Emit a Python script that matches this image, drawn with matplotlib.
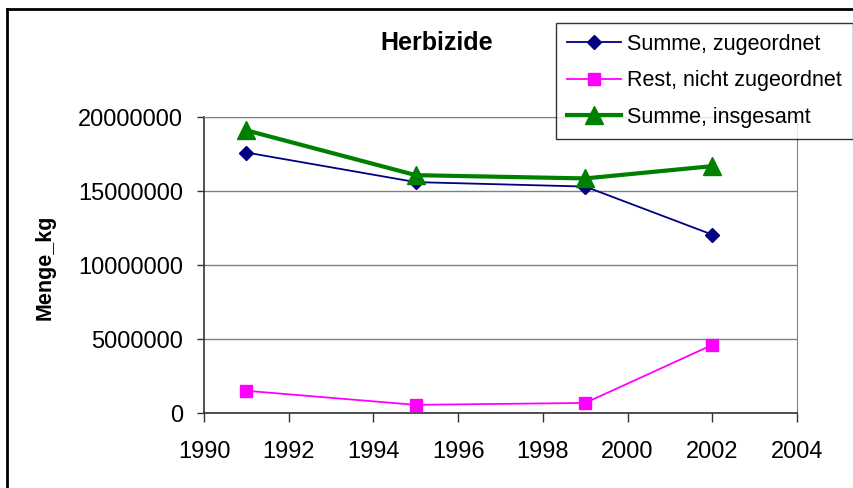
import matplotlib.pyplot as plt
from matplotlib.lines import Line2D

plt.rcParams['font.family'] = ['Liberation Sans', 'DejaVu Sans']

years = [1991, 1995, 1999, 2002]
summe_zugeordnet = [17600000, 15600000, 15300000, 12050000]
rest_nicht_zugeordnet = [1500000, 550000, 680000, 4600000]
summe_insgesamt = [19100000, 16070000, 15850000, 16680000]

fig = plt.figure(figsize=(8.54, 4.88), dpi=100)
ax = fig.add_axes([204 / 854, 1 - 413 / 488, (797 - 204) / 854, (413 - 117) / 488])

ax.plot(years, summe_zugeordnet, color='#000080', lw=1.3, marker='D', ms=7,
        label='Summe, zugeordnet', clip_on=False, zorder=3)
ax.plot(years, rest_nicht_zugeordnet, color='#FF00FF', lw=1.3, marker='s', ms=9,
        label='Rest, nicht zugeordnet', clip_on=False, zorder=3)
ax.plot(years, summe_insgesamt, color='#008000', lw=3, marker='^', ms=13,
        label='Summe, insgesamt', clip_on=False, zorder=4)

ax.set_xlim(1990, 2004)
ax.set_ylim(0, 20000000)
ax.set_xticks(range(1990, 2005, 2))
ax.set_yticks(range(0, 20000001, 5000000))
ax.set_yticklabels([str(v) for v in range(0, 20000001, 5000000)])
ax.tick_params(axis='both', direction='out', width=1, color='#333333',
               labelsize=17)
ax.tick_params(axis='x', length=6.5, pad=14)
ax.tick_params(axis='y', length=5, pad=10)

ax.grid(axis='y', color='#808080', lw=1)
ax.set_axisbelow(True)
for side in ['top', 'right']:
    ax.spines[side].set_color('#808080')
for side in ['left', 'bottom']:
    ax.spines[side].set_color('#333333')
    ax.spines[side].set_linewidth(1.2)

fig.text(437 / 854, 1 - 43 / 488, 'Herbizide', ha='center', va='center',
         fontsize=18, fontweight='bold')
fig.text(45 / 854, 1 - 267 / 488, 'Menge_kg', ha='center', va='center',
         rotation=90, fontsize=15.5, fontweight='bold')

# outer chart border (left and top edges only visible)
fig.add_artist(Line2D([7 / 854, 7 / 854], [0, 1 - 9 / 488], color='black', lw=2,
                      transform=fig.transFigure))
fig.add_artist(Line2D([7 / 854, 1], [1 - 9 / 488, 1 - 9 / 488], color='black', lw=2,
                      transform=fig.transFigure))

leg = fig.legend(loc='upper left', bbox_to_anchor=(556 / 854, 1 - 23 / 488),
                 frameon=True, fancybox=False, edgecolor='black', fontsize=15.5,
                 handlelength=2.5, handletextpad=0.3, labelspacing=0.72,
                 borderpad=0.5, borderaxespad=0)
leg.get_frame().set_linewidth(1)

fig.savefig('out.png', dpi=100)
